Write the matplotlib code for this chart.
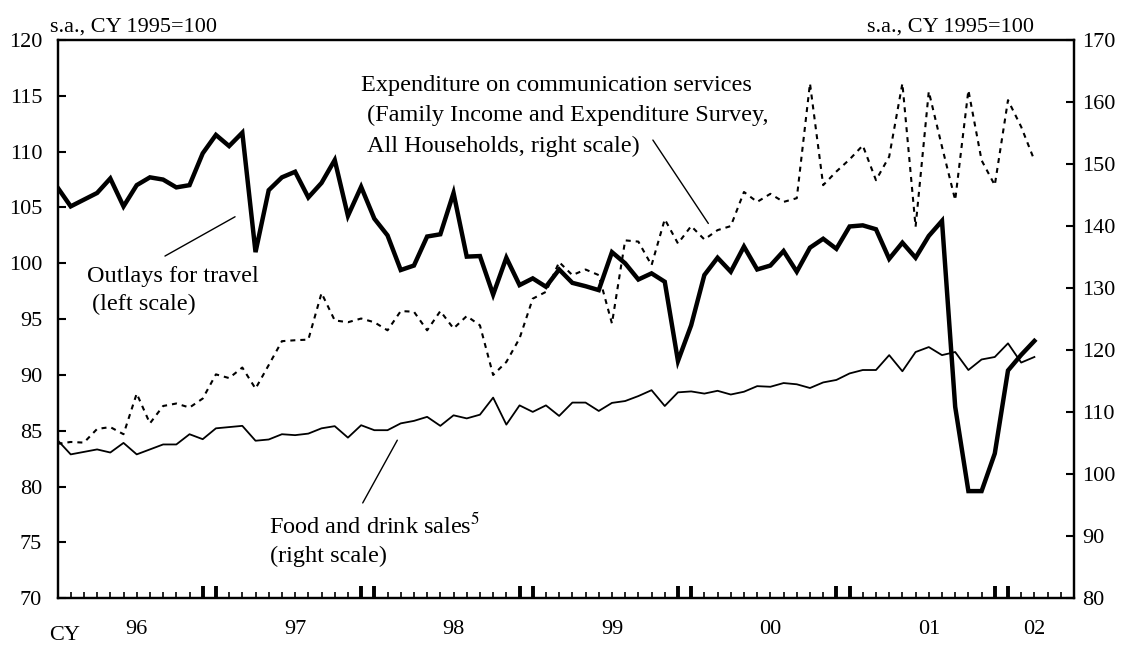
import numpy as np
import matplotlib
matplotlib.use("Agg")
import matplotlib.pyplot as plt
from matplotlib.transforms import blended_transform_factory

plt.rcParams['font.family'] = ['Liberation Serif', 'DejaVu Serif']
plt.rcParams['mathtext.fontset'] = 'stix'

# -------------------- Data: monthly, Jan 1996 - Mar 2002 --------------------
# Outlays for travel (left scale)
travel = [106.8, 105.1, 105.7, 106.3, 107.6, 105.1, 107.0, 107.7, 107.5, 106.8, 107.0, 109.85,
          111.5, 110.5, 111.7, 101.0, 106.55, 107.7, 108.2, 105.9, 107.2, 109.25, 104.25, 106.85,
          104.0, 102.5, 99.4, 99.8, 102.4, 102.6, 106.3, 100.6, 100.65, 97.2, 100.5, 98.05,
          98.65, 97.9, 99.45, 98.25, 97.95, 97.6, 101.0, 100.0, 98.55, 99.1, 98.35, 91.25,
          94.45, 98.95, 100.5, 99.25, 101.5, 99.45, 99.8, 101.1, 99.25, 101.4, 102.2, 101.3,
          103.3, 103.4, 103.05, 100.4, 101.85, 100.5, 102.45, 103.8, 87.15, 79.6, 79.6, 82.97,
          90.4, 91.8, 93.05]

# Food and drink sales (right scale)
food = [105.5, 103.2, 103.6, 104.0, 103.5, 105.05, 103.2, 104.0, 104.8, 104.8, 106.45, 105.65,
        107.4, 107.6, 107.8, 105.4, 105.6, 106.45, 106.3, 106.55, 107.4, 107.75, 105.9, 107.9,
        107.1, 107.1, 108.2, 108.6, 109.25, 107.8, 109.5, 109.0, 109.6, 112.35, 108.0, 111.1,
        110.05, 111.1, 109.4, 111.55, 111.55, 110.2, 111.5, 111.8, 112.6, 113.55, 111.0, 113.2,
        113.35, 113.0, 113.45, 112.85, 113.3, 114.2, 114.1, 114.7, 114.5, 113.9, 114.8, 115.2,
        116.25, 116.8, 116.8, 119.2, 116.6, 119.7, 120.5, 119.2, 119.7, 116.8, 118.5, 118.9,
        121.1, 118.0, 118.9]

# Expenditure on communication services (right scale)
comm = [104.9, 105.2, 105.1, 107.3, 107.6, 106.45, 113.0, 108.2, 111.0, 111.4, 110.75, 112.2,
        116.1, 115.5, 117.2, 113.8, 117.6, 121.45, 121.6, 121.7, 129.2, 124.8, 124.5, 125.1,
        124.5, 123.2, 126.3, 126.2, 123.2, 126.3, 123.5, 125.5, 124.0, 116.0, 118.1, 121.9,
        128.3, 129.4, 134.2, 132.1, 133.0, 132.1, 124.3, 137.7, 137.5, 133.7, 141.1, 137.2,
        140.0, 137.85, 139.35, 140.0, 145.5, 143.9, 145.2, 143.9, 144.5, 163.0, 146.6, 148.8,
        150.75, 153.0, 147.4, 151.2, 163.0, 139.9, 161.7, 152.8, 144.2, 161.9, 150.6, 146.6,
        160.3, 156.0, 150.6]

year_labels = ["96", "97", "98", "99", "00", "01", "02"]
year_label_pos = [6, 18, 30, 42, 54, 66, 74]
year_edge_ticks = [11, 12, 23, 24, 35, 36, 47, 48, 59, 60, 71, 72]

# -------------------- Figure --------------------
W, H = 1125, 646
fig = plt.figure(figsize=(W / 100, H / 100), dpi=100)


def px(x, y):
    # pixel position -> figure fraction
    return x / W, 1 - y / H


ax = fig.add_axes([57.5 / W, 1 - 598.3 / H, (1074 - 57.5) / W, (598.3 - 40) / H])
ax2 = ax.twinx()
ax.set_zorder(ax2.get_zorder() + 1)
ax.patch.set_visible(False)

months = np.arange(len(travel))
ax2.plot(months, comm, color="black", lw=1.5, ls=(0, (2.4, 2.4)))
ax2.plot(months, food, color="black", lw=1.3)
ax.plot(months, travel, color="black", lw=3.2, solid_joinstyle="miter")

ax.set_xlim(0, 77)
ax.set_ylim(70, 120)
ax.set_yticks(range(70, 121, 5))
ax2.set_ylim(80, 170)
ax2.set_yticks(range(80, 171, 10))

tfs = 16
ax.set_xticks(year_edge_ticks)
ax.set_xticks(range(0, 78), minor=True)
ax.tick_params(axis="x", which="major", direction="in", length=9, width=2.8, labelbottom=False)
ax.tick_params(axis="x", which="minor", direction="in", length=4.5, width=1.2)
ax.tick_params(axis="y", direction="in", length=6, width=1.5, labelsize=tfs, pad=11)
ax2.tick_params(axis="y", direction="in", length=6, width=1.5, labelsize=tfs, pad=6)
for a in (ax, ax2):
    for s in a.spines.values():
        s.set_linewidth(1.6)

trans = blended_transform_factory(ax.transData, fig.transFigure)
for pos, lab in zip(year_label_pos, year_labels):
    ax.text(pos, 1 - 630 / H, lab, transform=trans, ha="center", va="center", fontsize=tfs)
fig.text(*px(65, 636), "CY", ha="center", va="center", fontsize=tfs)

fig.text(*px(50.5, 32), "s.a., CY 1995=100", ha="left", va="baseline", fontsize=tfs)
fig.text(*px(1034, 32), "s.a., CY 1995=100", ha="right", va="baseline", fontsize=tfs)

# annotations
fs = 17.5
fig.text(*px(361, 90.7), "Expenditure on communication services", va="baseline", fontsize=fs)
fig.text(*px(367, 121.2), "(Family Income and Expenditure Survey,", va="baseline", fontsize=fs)
fig.text(*px(367, 151.7), "All Households, right scale)", va="baseline", fontsize=fs)
fig.text(*px(86.7, 281.7), "Outlays for travel", va="baseline", fontsize=fs)
fig.text(*px(91.7, 310), "(left scale)", va="baseline", fontsize=fs)
fig.text(*px(269.3, 533.3), "Food and drink sales$^{5}$", va="baseline", fontsize=fs)
fig.text(*px(270, 561.7), "(right scale)", va="baseline", fontsize=fs)

# leader lines (left-scale data coordinates)
line_kw = dict(arrowprops=dict(arrowstyle="-", color="black", lw=1.0, shrinkA=0, shrinkB=0))
ax.annotate("", xy=(49.3, 103.57), xytext=(45.1, 111.04), **line_kw)
ax.annotate("", xy=(13.45, 104.17), xytext=(8.14, 100.65), **line_kw)
ax.annotate("", xy=(25.74, 84.16), xytext=(23.12, 78.54), **line_kw)

fig.savefig("out.png", dpi=100)
